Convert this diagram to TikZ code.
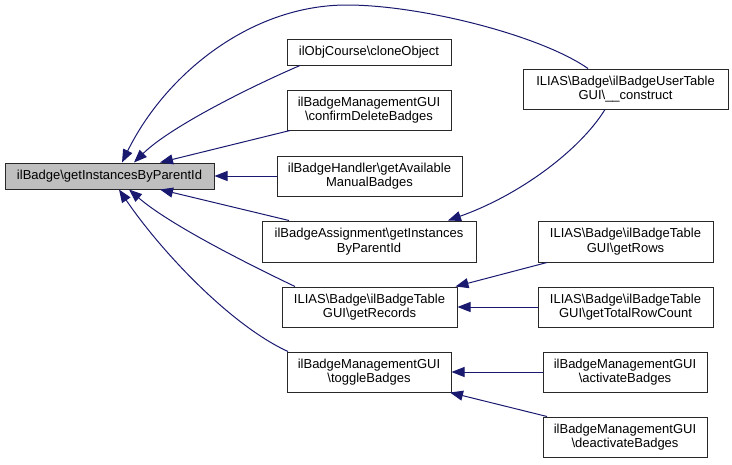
\documentclass[tikz,border=0pt]{standalone}
\usepackage{fontspec}
\setmainfont{Liberation Sans}
\usetikzlibrary{arrows.meta}
\definecolor{edgecol}{RGB}{25,25,112}
\definecolor{maingray}{RGB}{191,191,191}
\definecolor{boxline}{RGB}{40,40,40}
\newcommand{\bs}{\textbackslash}
\begin{document}
\begin{tikzpicture}[x=1pt,y=-1pt,
  fn/.style={draw=boxline, line width=1pt, fill=white, inner sep=0pt, align=center,
             font=\fontsize{13}{14.5}\selectfont},
  ed/.style={draw=edgecol, line width=1pt, -{Triangle[length=13pt,width=10pt]}}]
\useasboundingbox (0,0) rectangle (732,464);

\node[fn, fill=maingray, minimum width=209pt, minimum height=26pt] (main) at (109.5,176) {ilBadge\bs getInstancesByParentId};
\node[fn, minimum width=164pt, minimum height=26pt] (clone) at (369,52) {ilObjCourse\bs cloneObject};
\node[fn, minimum width=164pt, minimum height=40pt] (confirm) at (369,110) {ilBadgeManagementGUI\\\bs confirmDeleteBadges};
\node[fn, minimum width=185pt, minimum height=40pt] (handler) at (369.5,176) {ilBadgeHandler\bs getAvailable\\ManualBadges};
\node[fn, minimum width=214pt, minimum height=41pt] (assign) at (369,241.5) {ilBadgeAssignment\bs getInstances\\ByParentId};
\node[fn, minimum width=175pt, minimum height=40pt] (records) at (369.5,307) {ILIAS\bs Badge\bs ilBadgeTable\\GUI\bs getRecords};
\node[fn, minimum width=164pt, minimum height=40pt] (toggle) at (369,372) {ilBadgeManagementGUI\\\bs toggleBadges};
\node[fn, minimum width=205pt, minimum height=40pt] (construct) at (625.5,89) {ILIAS\bs Badge\bs ilBadgeUserTable\\GUI\bs \_\_construct};
\node[fn, minimum width=175pt, minimum height=41pt] (rows) at (625.5,241.5) {ILIAS\bs Badge\bs ilBadgeTable\\GUI\bs getRows};
\node[fn, minimum width=175pt, minimum height=40pt] (total) at (625.5,307) {ILIAS\bs Badge\bs ilBadgeTable\\GUI\bs getTotalRowCount};
\node[fn, minimum width=164pt, minimum height=40pt] (activate) at (625,372) {ilBadgeManagementGUI\\\bs activateBadges};
\node[fn, minimum width=164pt, minimum height=40pt] (deactivate) at (625,437) {ilBadgeManagementGUI\\\bs deactivateBadges};

% edges to main
\draw[ed] ([xshift=-37.5pt]construct.north) .. controls (540,35) and (420,5) .. (347,5)
   .. controls (250,5) and (165,75) .. ([xshift=12.5pt]main.north);
\draw[ed] ([xshift=-69pt]clone.south) .. controls (250,87) and (170,127) .. ([xshift=24.5pt]main.north);
\draw[ed] ([xshift=-79pt]confirm.south) -- ([xshift=50.5pt]main.north);
\draw[ed] (handler.west) -- (main.east);
\draw[ed] ([xshift=-80pt]assign.north) -- ([xshift=50.5pt]main.south);
\draw[ed] ([xshift=-74.5pt]records.north) .. controls (250,265) and (170,225) .. ([xshift=19.5pt]main.south);
\draw[ed] ([xshift=-81pt]toggle.north) .. controls (230,325) and (160,250) .. ([xshift=9.5pt]main.south);

% other edges
\draw[ed] ([xshift=-20.5pt]construct.south) .. controls (580,150) and (520,195) .. ([xshift=79pt]assign.north);
\draw[ed] ([xshift=-78.5pt]rows.south) -- ([xshift=-2pt]records.north east);
\draw[ed] (total.west) -- (records.east);
\draw[ed] (activate.west) -- (toggle.east);
\draw[ed] ([xshift=-78pt]deactivate.north) -- ([xshift=81pt]toggle.south);
\end{tikzpicture}
\end{document}
